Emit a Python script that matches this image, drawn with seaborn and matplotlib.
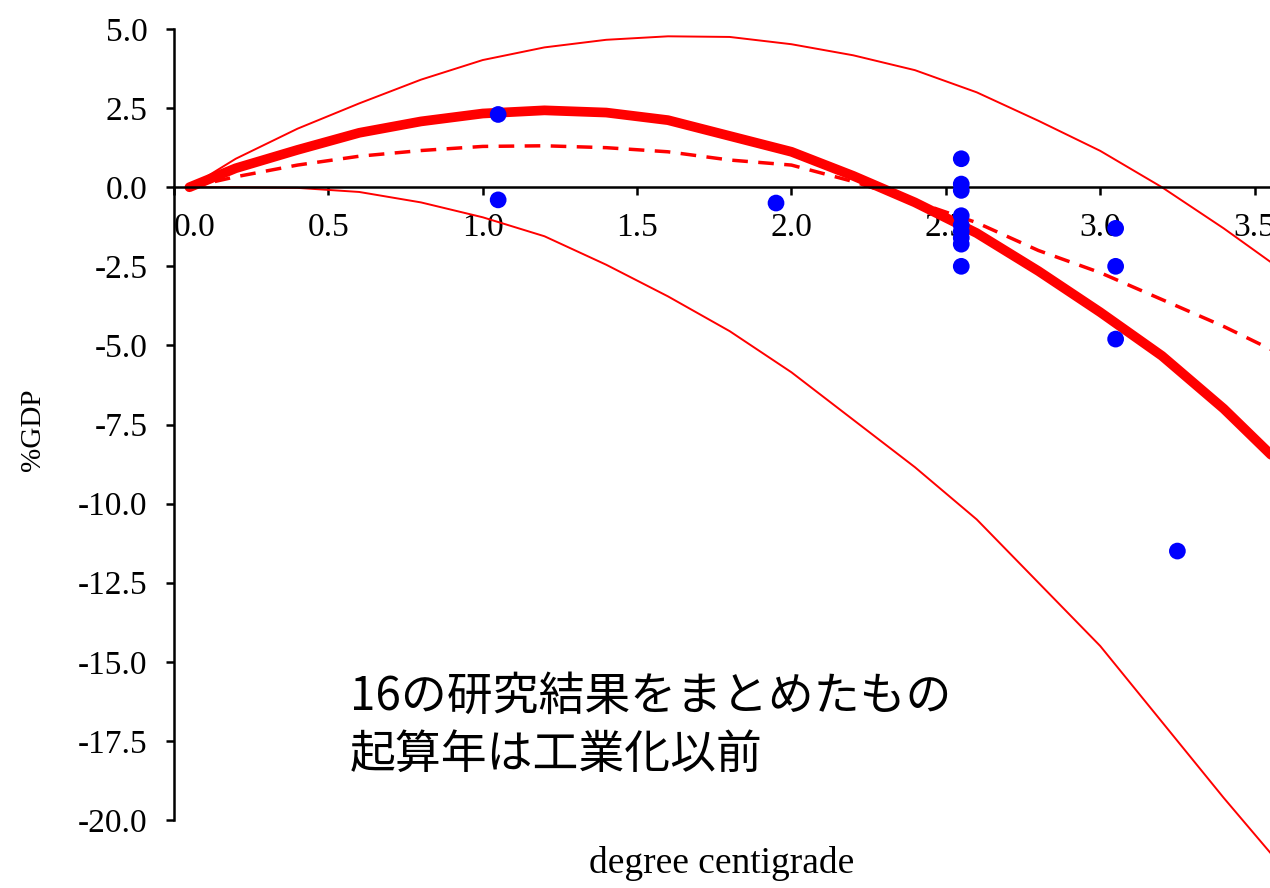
import matplotlib
matplotlib.use("Agg")
import matplotlib.pyplot as plt
import seaborn as sns

# temperature grid (degree centigrade) the curves were read at
temps = [0.05, 0.2, 0.4, 0.6, 0.8, 1.0, 1.2, 1.4, 1.6, 1.8,
         2.0, 2.2, 2.4, 2.6, 2.8, 3.0, 3.2, 3.4, 3.6]

# central estimate (thick line)
central = [0.0, 0.6, 1.18, 1.72, 2.08, 2.33, 2.43, 2.36, 2.12, 1.62,
           1.12, 0.36, -0.48, -1.45, -2.65, -3.95, -5.33, -7.0, -8.9]
# confidence bounds (thin lines)
upper = [0.0, 0.9, 1.85, 2.65, 3.4, 4.02, 4.42, 4.66, 4.77, 4.75,
         4.52, 4.17, 3.7, 3.0, 2.1, 1.15, 0.0, -1.3, -2.7]
lower = [0.0, 0.0, -0.02, -0.15, -0.48, -0.95, -1.55, -2.45, -3.45, -4.55,
         -5.85, -7.35, -8.85, -10.5, -12.5, -14.5, -16.9, -19.3, -21.6]
# alternative fit (dashed line)
dashed = [0.0, 0.33, 0.7, 0.98, 1.16, 1.29, 1.31, 1.25, 1.12, 0.86,
          0.7, 0.18, -0.45, -1.12, -2.0, -2.7, -3.55, -4.4, -5.35]

# individual study estimates (blue dots)
study_temp = [1.05, 1.05, 1.95,
              2.55, 2.55, 2.55, 2.55, 2.55, 2.55, 2.55, 2.55, 2.55,
              3.05, 3.05, 3.05, 3.25]
study_impact = [2.3, -0.4, -0.5,
                0.9, 0.1, -0.1, -0.9, -1.2, -1.4, -1.6, -1.8, -2.5,
                -1.3, -2.5, -4.8, -11.5]

xticks = [0.0, 0.5, 1.0, 1.5, 2.0, 2.5, 3.0, 3.5]
yticks = [5.0, 2.5, 0.0, -2.5, -5.0, -7.5, -10.0, -12.5, -15.0, -17.5, -20.0]

note_lines = ["16の研究結果をまとめたもの", "起算年は工業化以前"]

sns.set_style("ticks")
plt.rcParams["font.family"] = ["Liberation Serif", "DejaVu Serif"]
plt.rcParams["axes.unicode_minus"] = False
plt.rcParams["text.color"] = "black"
plt.rcParams["axes.labelcolor"] = "black"

fig = plt.figure(figsize=(12.7, 8.88), dpi=100)
ax = fig.add_axes([0.137, 0.0766, 0.863, 0.8907])

sns.lineplot(x=temps, y=upper, ax=ax, color="red", lw=1.4, clip_on=False)
sns.lineplot(x=temps, y=lower, ax=ax, color="red", lw=1.4, clip_on=False)
sns.lineplot(x=temps, y=dashed, ax=ax, color="red", lw=2.5,
             linestyle=(0, (4.5, 3)), clip_on=False)
sns.lineplot(x=temps, y=central, ax=ax, color="red", lw=7,
             solid_capstyle="round", clip_on=False)
sns.scatterplot(x=study_temp, y=study_impact, ax=ax, color="blue", s=145,
                edgecolor="none", zorder=4, clip_on=False)

ax.set_xlim(0, 3.55)
ax.set_ylim(-20, 5)
ax.set_xticks(xticks)
ax.set_yticks(yticks)
ax.set_xticklabels([f"{v:.1f}" for v in xticks])
ax.set_yticklabels([f"{v:.1f}" for v in yticks])

for side in ["top", "right"]:
    ax.spines[side].set_visible(False)
ax.spines["bottom"].set_position(("data", 0))
ax.spines["left"].set_linewidth(1.8)
ax.spines["bottom"].set_linewidth(1.8)
ax.spines["left"].set_color("black")
ax.spines["bottom"].set_color("black")

ax.tick_params(axis="y", direction="out", length=6, width=1.8,
               labelsize=24, pad=13, colors="black")
ax.tick_params(axis="x", direction="out", length=6, width=1.8,
               labelsize=24, pad=12, colors="black")

# first x label sits to the right of the spine, as in the original
ax.xaxis.get_major_ticks()[0].label1.set_horizontalalignment("left")

ax.set_xlabel("degree centigrade", fontsize=27)
ax.xaxis.set_label_coords(0.5, -0.033)
ax.set_ylabel("%GDP", fontsize=21)
ax.yaxis.set_label_coords(-0.117, 0.493)

fig.text(0.2756, 0.216, note_lines[0], fontsize=33, ha="left", va="center",
         color="black", family=["Noto Sans CJK JP", "DejaVu Sans"])
fig.text(0.2756, 0.150, note_lines[1], fontsize=33, ha="left", va="center",
         color="black", family=["Noto Sans CJK JP", "DejaVu Sans"])

fig.savefig("out.png", dpi=100)
